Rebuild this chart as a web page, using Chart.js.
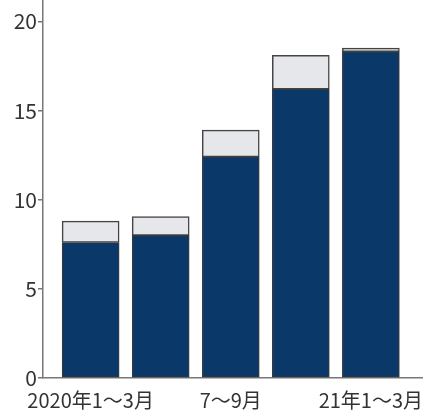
<!DOCTYPE html>
<html>
<head>
<meta charset="utf-8">
<script src="https://cdn.jsdelivr.net/npm/chart.js@4/dist/chart.umd.min.js"></script>
<style>
  body { margin: 0; background: #fff; }
</style>
</head>
<body>
<canvas id="quarterChart" width="441" height="419"></canvas>
<script>
const quarters = ["2020年1～3月", "4～6月", "7～9月", "10～12月", "21年1～3月"];
const shownLabels = [0, 2, 4];
const lowerValues = [7.6, 8.0, 12.4, 16.2, 18.3];
const upperValues = [1.2, 1.05, 1.5, 1.9, 0.2];
const yTicks = [0, 5, 10, 15, 20];

const fontFamily = "'Noto Sans CJK JP', sans-serif";

function toPoints(values) {
    return values.map((v, i) => ({x: i, y: v}));
}

document.addEventListener("DOMContentLoaded", function () {
    const ctx = document.getElementById("quarterChart").getContext("2d");

    new Chart(ctx, {
        type: "bar",
        data: {
            datasets: [{
                data: toPoints(lowerValues),
                backgroundColor: "#0a3868",
                borderColor: "#3a3a3a",
                borderWidth: 1.2,
                borderSkipped: false,
                barThickness: 57,
            }, {
                data: toPoints(upperValues),
                backgroundColor: "#e6e7eb",
                borderColor: "#444",
                borderWidth: 1.5,
                borderSkipped: false,
                barThickness: 57,
            }],
        },
        options: {
            responsive: false,
            animation: false,
            layout: {padding: {top: 0, left: 0, bottom: 0, right: 19}},
            plugins: {
                legend: {display: false},
                tooltip: {enabled: false},
            },
            scales: {
                x: {
                    type: "linear",
                    stacked: true,
                    bounds: "data",
                    offset: false,
                    min: -0.68,
                    max: 4.73,
                    grid: {display: false},
                    border: {display: true, color: "#777", width: 1.5},
                    ticks: {
                        color: "#333",
                        padding: 2,
                        maxRotation: 0,
                        autoSkip: false,
                        includeBounds: false,
                        font: {family: fontFamily, size: 20},
                        callback: function (value) {
                            return quarters[value] || "";
                        },
                    },
                    afterBuildTicks: function (scale) {
                        scale.ticks = shownLabels.map(v => ({value: v}));
                    },
                    afterFit: function (scale) {
                        scale.height = 41;
                        scale.paddingLeft = 0;
                        scale.paddingRight = 0;
                    },
                },
                y: {
                    stacked: true,
                    min: 0,
                    max: 21.2,
                    grid: {
                        drawOnChartArea: false,
                        drawTicks: true,
                        tickLength: 5,
                        color: "#777",
                        lineWidth: 1.5,
                    },
                    border: {display: true, color: "#777", width: 1.5},
                    ticks: {
                        color: "#333",
                        padding: 1,
                        font: {family: fontFamily, size: 21},
                    },
                    afterBuildTicks: function (scale) {
                        scale.ticks = yTicks.map(v => ({value: v}));
                    },
                    afterFit: function (scale) {
                        scale.width = 43;
                        scale.paddingTop = 0;
                        scale.paddingBottom = 0;
                    },
                },
            },
        },
    });
});
</script>
</body>
</html>
